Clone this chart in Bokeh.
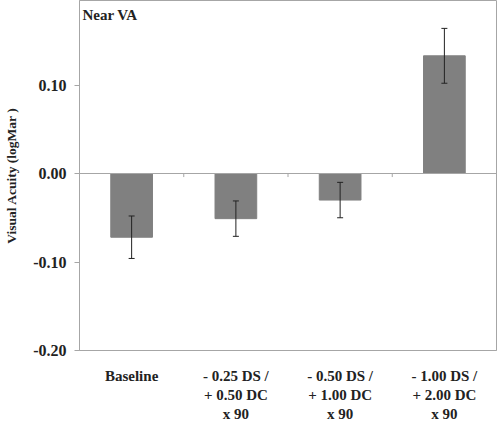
from bokeh.plotting import figure
from bokeh.models import Range1d, FixedTicker, Span, Label, Whisker, ColumnDataSource, PrintfTickFormatter
from bokeh.embed import file_html
from bokeh.resources import INLINE

categories = ["Baseline", "- 0.25 DS /\n+ 0.50 DC\nx 90", "- 0.50 DS /\n+ 1.00 DC\nx 90", "- 1.00 DS /\n+ 2.00 DC\nx 90"]
means = [-0.072, -0.051, -0.030, 0.133]
errors = [0.024, 0.020, 0.020, 0.031]
y_ticks = [-0.20, -0.10, 0.00, 0.10, 0.20]

xs = [i + 0.5 for i in range(len(categories))]
src = ColumnDataSource(dict(
    x=xs, top=means,
    upper=[m + e for m, e in zip(means, errors)],
    lower=[m - e for m, e in zip(means, errors)],
))

FONT = "Liberation Serif"
GRAY_LINE = "#a6a6a6"
TEXT = "#222222"

p = figure(width=504, height=424, output_backend="svg", toolbar_location=None,
           x_range=Range1d(0, len(categories)), y_range=Range1d(-0.20, 0.1955),
           min_border_top=0, min_border_right=8, min_border_bottom=74, min_border_left=79)

p.vbar(x="x", top="top", bottom=0, width=0.4, source=src,
       fill_color="#808080", line_color="#808080")

zero = Span(location=0, dimension="width", line_color=GRAY_LINE, line_width=1)
p.add_layout(zero)

# small category-boundary tick marks on the zero line
bounds = list(range(1, len(categories)))
p.segment(x0=bounds, x1=bounds, y0=[0] * len(bounds), y1=[-0.004] * len(bounds),
          line_color=GRAY_LINE, line_width=1)

w = Whisker(base="x", upper="upper", lower="lower", source=src,
            line_color=TEXT, line_width=1, level="overlay")
w.upper_head.size = 6
w.lower_head.size = 6
w.upper_head.line_color = TEXT
w.lower_head.line_color = TEXT
p.add_layout(w)

p.xgrid.visible = False
p.ygrid.visible = False
p.outline_line_color = GRAY_LINE

p.xaxis.ticker = FixedTicker(ticks=xs)
p.xaxis.major_label_overrides = {x: c for x, c in zip(xs, categories)}
p.xaxis.major_tick_line_color = None
p.xaxis.minor_tick_line_color = None
p.xaxis.axis_line_color = GRAY_LINE
p.xaxis.major_label_text_font = FONT
p.xaxis.major_label_text_font_style = "bold"
p.xaxis.major_label_text_font_size = "15px"
p.xaxis.major_label_text_color = TEXT
p.xaxis.major_label_standoff = 11

p.yaxis.ticker = FixedTicker(ticks=y_ticks)
p.yaxis.formatter = PrintfTickFormatter(format="%.2f")
p.yaxis.axis_line_color = GRAY_LINE
p.yaxis.major_tick_line_color = GRAY_LINE
p.yaxis.major_tick_out = 5
p.yaxis.major_tick_in = 0
p.yaxis.minor_tick_line_color = None
p.yaxis.major_label_text_font = FONT
p.yaxis.major_label_text_font_style = "bold"
p.yaxis.major_label_text_font_size = "16px"
p.yaxis.major_label_text_color = TEXT
p.yaxis.major_label_standoff = 8
p.yaxis.axis_label = "Visual Acuity (logMar )"
p.yaxis.axis_label_text_font = FONT
p.yaxis.axis_label_text_font_style = "bold"
p.yaxis.axis_label_text_font_size = "13.5px"
p.yaxis.axis_label_text_color = TEXT
p.yaxis.axis_label_standoff = 11

title = Label(x=3, y=336, x_units="screen", y_units="screen", text="Near VA",
              text_font=FONT, text_font_style="bold", text_font_size="15px",
              text_color=TEXT, text_baseline="alphabetic")
p.add_layout(title)

open("out.html", "w").write(file_html(p, INLINE))
